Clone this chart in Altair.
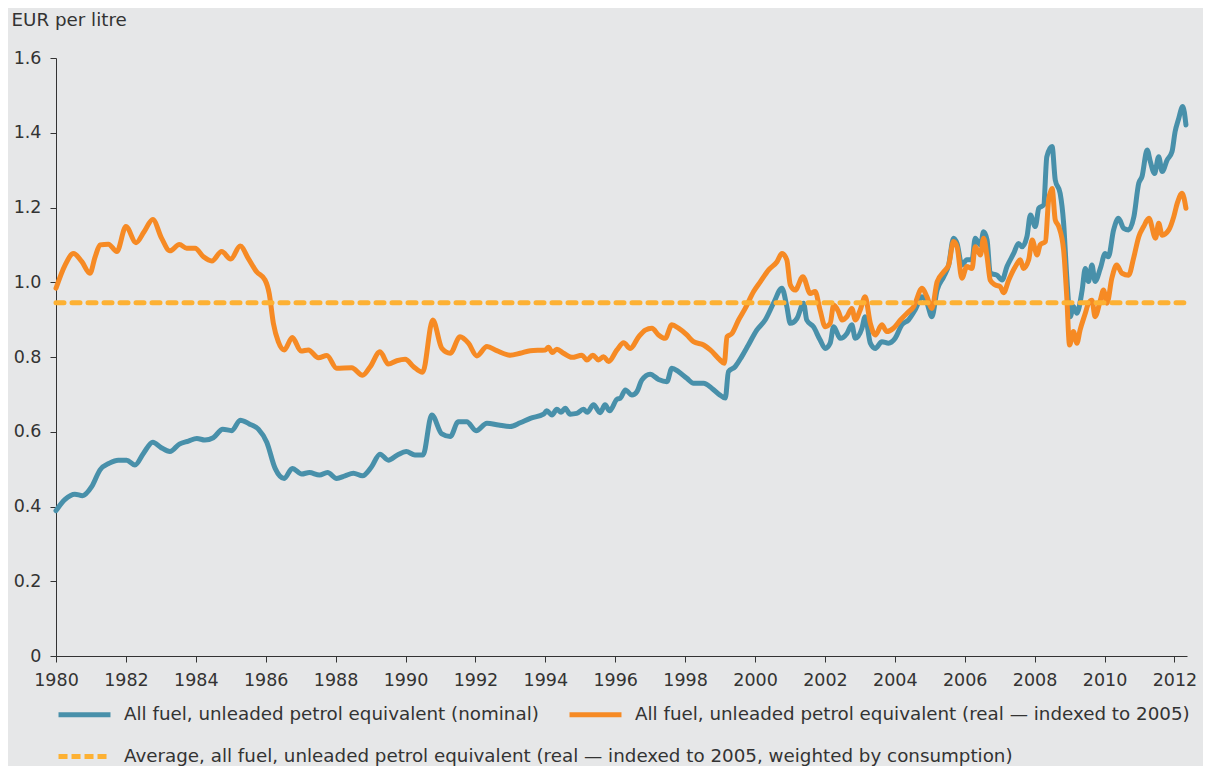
import altair as alt
import pandas as pd

NOMINAL = "All fuel, unleaded petrol equivalent (nominal)"
REAL = "All fuel, unleaded petrol equivalent (real \u2014 indexed to 2005)"
AVERAGE = "Average, all fuel, unleaded petrol equivalent (real \u2014 indexed to 2005, weighted by consumption)"

nominal_years = [
    1980.0, 1980.26, 1980.54, 1980.76, 1981.02, 1981.26, 1981.53, 1981.78, 1982.02, 1982.26,
    1982.5, 1982.77, 1983.0, 1983.26, 1983.53, 1983.79, 1984.03, 1984.26, 1984.5, 1984.77,
    1985.03, 1985.27, 1985.53, 1985.79, 1986.03, 1986.27, 1986.53, 1986.76, 1987.03, 1987.25,
    1987.54, 1987.77, 1988.03, 1988.27, 1988.51, 1988.77, 1989.02, 1989.27, 1989.51, 1989.77,
    1990.02, 1990.27, 1990.5, 1990.75, 1991.04, 1991.28, 1991.51, 1991.75, 1992.02, 1992.33,
    1992.66, 1992.99, 1993.28, 1993.57, 1993.95, 1994.04, 1994.19, 1994.33, 1994.45, 1994.57,
    1994.71, 1994.9, 1995.09, 1995.2, 1995.38, 1995.57, 1995.71, 1995.84, 1996.05, 1996.15,
    1996.29, 1996.48, 1996.62, 1996.76, 1997.0, 1997.24, 1997.48, 1997.62, 1997.81, 1998.05,
    1998.24, 1998.53, 1998.77, 1999.0, 1999.15, 1999.24, 1999.43, 1999.62, 1999.81, 2000.05,
    2000.29, 2000.53, 2000.77, 2000.91, 2001.01, 2001.2, 2001.39, 2001.48, 2001.67, 2001.86,
    2002.01, 2002.15, 2002.25, 2002.44, 2002.63, 2002.77, 2002.87, 2003.06, 2003.15, 2003.3,
    2003.44, 2003.63, 2003.82, 2004.01, 2004.2, 2004.39, 2004.58, 2004.78, 2004.92, 2005.06,
    2005.21, 2005.4, 2005.54, 2005.68, 2005.78, 2005.92, 2006.06, 2006.21, 2006.3, 2006.45,
    2006.54, 2006.64, 2006.73, 2006.92, 2007.07, 2007.21, 2007.4, 2007.54, 2007.64, 2007.78,
    2007.88, 2008.02, 2008.12, 2008.26, 2008.35, 2008.5, 2008.59, 2008.73, 2008.83, 2008.92,
    2009.02, 2009.11, 2009.21, 2009.36, 2009.45, 2009.54, 2009.64, 2009.73, 2009.88, 2010.02,
    2010.11, 2010.26, 2010.4, 2010.55, 2010.69, 2010.84, 2010.98, 2011.07, 2011.22, 2011.31,
    2011.43, 2011.55, 2011.65, 2011.79, 2011.93, 2012.02, 2012.11, 2012.24, 2012.33,
]
nominal_values = [
    0.389, 0.419, 0.433, 0.429, 0.453, 0.498, 0.516, 0.524, 0.524, 0.511,
    0.542, 0.572, 0.558, 0.547, 0.567, 0.575, 0.582, 0.578, 0.584, 0.607,
    0.603, 0.631, 0.621, 0.607, 0.572, 0.502, 0.475, 0.502, 0.487, 0.491,
    0.484, 0.491, 0.475, 0.482, 0.489, 0.482, 0.505, 0.540, 0.524, 0.538,
    0.547, 0.538, 0.538, 0.645, 0.594, 0.587, 0.627, 0.627, 0.603, 0.623,
    0.618, 0.614, 0.624, 0.636, 0.647, 0.656, 0.645, 0.660, 0.652, 0.663,
    0.647, 0.649, 0.660, 0.652, 0.672, 0.651, 0.672, 0.656, 0.687, 0.690,
    0.712, 0.698, 0.707, 0.738, 0.754, 0.740, 0.734, 0.770, 0.761, 0.743,
    0.730, 0.730, 0.716, 0.698, 0.690, 0.761, 0.774, 0.801, 0.832, 0.872,
    0.899, 0.944, 0.984, 0.935, 0.890, 0.903, 0.944, 0.899, 0.881, 0.846,
    0.823, 0.837, 0.881, 0.850, 0.863, 0.886, 0.850, 0.877, 0.908, 0.837,
    0.823, 0.841, 0.837, 0.850, 0.886, 0.899, 0.926, 0.961, 0.944, 0.908,
    0.979, 1.015, 1.046, 1.118, 1.104, 1.046, 1.060, 1.060, 1.118, 1.100,
    1.135, 1.113, 1.024, 1.019, 1.006, 1.042, 1.077, 1.104, 1.095, 1.122,
    1.180, 1.149, 1.198, 1.207, 1.336, 1.363, 1.274, 1.238, 1.158, 1.015,
    0.908, 0.935, 0.917, 0.979, 1.037, 1.002, 1.046, 1.002, 1.037, 1.077,
    1.068, 1.140, 1.171, 1.144, 1.140, 1.175, 1.265, 1.282, 1.354, 1.323,
    1.291, 1.336, 1.296, 1.327, 1.349, 1.403, 1.434, 1.470, 1.421,
]

real_years = [
    1980.0, 1980.26, 1980.5, 1980.74, 1980.97, 1981.12, 1981.26, 1981.5, 1981.74, 1982.0,
    1982.29, 1982.52, 1982.77, 1983.02, 1983.26, 1983.53, 1983.74, 1983.98, 1984.22, 1984.46,
    1984.74, 1985.0, 1985.27, 1985.5, 1985.74, 1985.98, 1986.1, 1986.22, 1986.36, 1986.53,
    1986.76, 1987.01, 1987.22, 1987.51, 1987.75, 1988.03, 1988.46, 1988.77, 1988.99, 1989.27,
    1989.51, 1989.75, 1989.99, 1990.23, 1990.49, 1990.78, 1991.04, 1991.28, 1991.56, 1991.8,
    1992.04, 1992.33, 1992.61, 1992.99, 1993.28, 1993.57, 1994.0, 1994.09, 1994.2, 1994.33,
    1994.52, 1994.76, 1995.05, 1995.19, 1995.36, 1995.52, 1995.67, 1995.81, 1996.05, 1996.24,
    1996.43, 1996.67, 1996.86, 1997.05, 1997.24, 1997.43, 1997.62, 1997.81, 1998.05, 1998.24,
    1998.53, 1998.72, 1999.0, 1999.12, 1999.2, 1999.34, 1999.53, 1999.72, 1999.96, 2000.15,
    2000.39, 2000.63, 2000.77, 2000.91, 2001.01, 2001.15, 2001.37, 2001.58, 2001.72, 2001.86,
    2002.01, 2002.15, 2002.25, 2002.39, 2002.49, 2002.63, 2002.77, 2002.87, 2003.01, 2003.15,
    2003.3, 2003.44, 2003.63, 2003.77, 2003.96, 2004.16, 2004.35, 2004.54, 2004.78, 2004.92,
    2005.06, 2005.21, 2005.4, 2005.54, 2005.68, 2005.78, 2005.92, 2006.06, 2006.21, 2006.3,
    2006.45, 2006.54, 2006.64, 2006.73, 2006.87, 2007.02, 2007.11, 2007.26, 2007.45, 2007.59,
    2007.68, 2007.83, 2007.93, 2008.07, 2008.16, 2008.31, 2008.4, 2008.5, 2008.59, 2008.69,
    2008.83, 2008.92, 2009.0, 2009.11, 2009.21, 2009.3, 2009.45, 2009.54, 2009.64, 2009.73,
    2009.88, 2009.97, 2010.07, 2010.21, 2010.35, 2010.5, 2010.69, 2010.83, 2010.98, 2011.12,
    2011.27, 2011.46, 2011.55, 2011.65, 2011.84, 2011.98, 2012.08, 2012.22, 2012.33,
]
real_values = [
    0.984, 1.046, 1.077, 1.055, 1.024, 1.068, 1.100, 1.102, 1.082, 1.149,
    1.106, 1.135, 1.168, 1.118, 1.084, 1.101, 1.091, 1.091, 1.068, 1.057,
    1.082, 1.062, 1.097, 1.064, 1.028, 1.006, 0.970, 0.890, 0.841, 0.819,
    0.852, 0.816, 0.819, 0.798, 0.804, 0.770, 0.771, 0.751, 0.774, 0.814,
    0.781, 0.790, 0.794, 0.774, 0.759, 0.899, 0.823, 0.810, 0.854, 0.837,
    0.803, 0.828, 0.817, 0.805, 0.810, 0.817, 0.819, 0.826, 0.812, 0.821,
    0.810, 0.799, 0.805, 0.792, 0.805, 0.792, 0.801, 0.788, 0.819, 0.838,
    0.823, 0.854, 0.872, 0.877, 0.859, 0.850, 0.886, 0.877, 0.859, 0.841,
    0.832, 0.819, 0.792, 0.783, 0.854, 0.863, 0.899, 0.930, 0.975, 1.001,
    1.033, 1.055, 1.077, 1.060, 0.993, 0.979, 1.015, 0.970, 0.975, 0.926,
    0.881, 0.890, 0.939, 0.921, 0.899, 0.908, 0.930, 0.899, 0.926, 0.961,
    0.890, 0.859, 0.886, 0.868, 0.877, 0.899, 0.917, 0.935, 0.984, 0.961,
    0.930, 1.001, 1.028, 1.046, 1.109, 1.095, 1.011, 1.042, 1.037, 1.095,
    1.073, 1.118, 1.068, 1.006, 0.993, 0.988, 0.972, 1.006, 1.042, 1.060,
    1.037, 1.060, 1.113, 1.073, 1.100, 1.109, 1.220, 1.251, 1.167, 1.149,
    1.086, 0.961, 0.832, 0.868, 0.837, 0.872, 0.917, 0.944, 0.952, 0.908,
    0.952, 0.979, 0.944, 1.011, 1.046, 1.024, 1.019, 1.064, 1.122, 1.149,
    1.171, 1.118, 1.158, 1.126, 1.140, 1.175, 1.211, 1.238, 1.198,
]

average_value = 0.945
average_start = 1980.0
average_end = 2012.27

x_ticks = [1980 + 2 * i for i in range(17)]
y_ticks = [0, 0.2, 0.4, 0.6, 0.8, 1.0, 1.2, 1.4, 1.6]

BLUE = "#4890aa"
ORANGE = "#f68a24"
YELLOW = "#fdb133"
TEXT = "#333333"
FONT = "DejaVu Sans"
TICK_FS = 17.5
TEXT_FS = 18.3

lines_df = pd.concat([
    pd.DataFrame({"year": nominal_years, "value": nominal_values, "series": NOMINAL}),
    pd.DataFrame({"year": real_years, "value": real_values, "series": REAL}),
], ignore_index=True)

avg_df = pd.DataFrame({
    "x0": [average_start], "x1": [average_end], "value": [average_value], "series": [AVERAGE],
})

x_scale = alt.Scale(domain=[1980, 2012.36], nice=False, zero=False)
y_scale = alt.Scale(domain=[0, 1.6], nice=False)

lines = alt.Chart(lines_df).mark_line(
    strokeWidth=5, interpolate="monotone", strokeJoin="round", strokeCap="round"
).encode(
    x=alt.X("year:Q", scale=x_scale, axis=alt.Axis(
        values=x_ticks, format="d", title=None, grid=False,
        domainColor=TEXT, tickColor=TEXT, tickSize=6, labelPadding=9,
        labelFontSize=TICK_FS, labelColor=TEXT, labelFont=FONT, labelFlush=False,
    )),
    y=alt.Y("value:Q", scale=y_scale, axis=alt.Axis(
        values=y_ticks, title="EUR per litre", grid=False,
        labelExpr="datum.value == 0 ? '0' : format(datum.value, '.1f')",
        domainColor=TEXT, tickColor=TEXT, tickSize=6, labelPadding=9,
        labelFontSize=TICK_FS, labelColor=TEXT, labelFont=FONT,
        titleAngle=0, titleAlign="left", titleBaseline="middle",
        titleX=-45, titleY=-38, titleFontSize=TEXT_FS, titleFontWeight="normal",
        titleColor=TEXT, titleFont=FONT,
    )),
    color=alt.Color("series:N", scale=alt.Scale(domain=[NOMINAL, REAL], range=[BLUE, ORANGE]),
                    legend=alt.Legend(
                        title=None, orient="none", direction="horizontal",
                        legendX=0, legendY=628, symbolType="stroke", symbolSize=2700,
                        symbolStrokeWidth=5, labelFontSize=TEXT_FS, labelFont=FONT,
                        labelColor=TEXT, labelLimit=1000, labelOffset=11,
                        columnPadding=20,
                    )),
    detail="series:N",
)

avg = alt.Chart(avg_df).mark_rule(
    strokeWidth=5, strokeDash=[8, 8], strokeCap="round"
).encode(
    x=alt.X("x0:Q", scale=x_scale),
    x2="x1:Q",
    y=alt.Y("value:Q", scale=y_scale),
    color=alt.Color("series:N", scale=alt.Scale(domain=[AVERAGE], range=[YELLOW]),
                    legend=alt.Legend(
                        title=None, orient="none", legendX=0, legendY=670,
                        symbolType="stroke", symbolSize=2700, symbolStrokeWidth=5,
                        symbolDash=[9, 4], labelFontSize=TEXT_FS, labelFont=FONT,
                        labelColor=TEXT, labelLimit=1000, labelOffset=11,
                    )),
)

chart = alt.layer(lines, avg).resolve_scale(color="independent").properties(
    width=1131, height=598,
    autosize=alt.AutoSizeParams(type="none"),
    padding={"left": 48, "top": 50, "right": 16, "bottom": 110},
    background="#e6e7e8",
).configure_view(stroke=None)

chart.save("out.html", embed_options={"renderer": "svg", "actions": False})
